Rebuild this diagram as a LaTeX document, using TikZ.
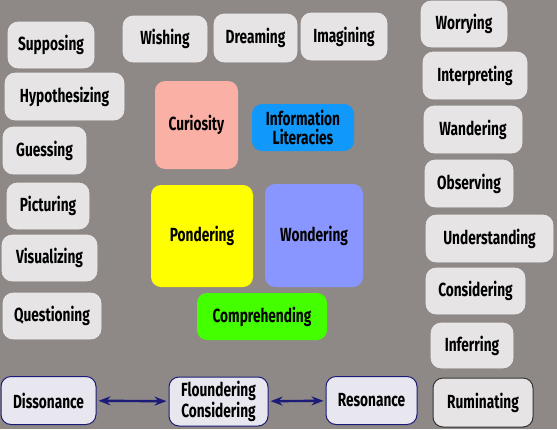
\documentclass[tikz,border=0pt]{standalone}
\usepackage{fontspec}
\setmainfont{Fira Sans}[FakeStretch=0.72]
\usetikzlibrary{arrows.meta}
\definecolor{bg}{RGB}{142,136,134}
\definecolor{lightbox}{RGB}{230,228,228}
\definecolor{salmon}{RGB}{250,176,164}
\definecolor{infoblue}{RGB}{16,152,250}
\definecolor{yel}{RGB}{255,255,0}
\definecolor{periw}{RGB}{138,150,255}
\definecolor{grn}{RGB}{68,255,0}
\definecolor{navy}{RGB}{28,28,120}
\definecolor{bluebox}{RGB}{232,230,238}
\tikzset{
  base/.style={rounded corners=10pt, align=center, inner sep=0pt,
    font=\fontsize{19}{19}\selectfont\bfseries, text=black},
  light/.style={base, fill=lightbox, draw=lightbox!80!white, line width=0.6pt},
  dark/.style={base, fill=lightbox, draw=black!80, line width=1pt},
  bluebord/.style={base, fill=bluebox, draw=navy, line width=1pt},
  colbox/.style={base, fill=#1, draw=none},
  link/.style={navy, line width=2.4pt, {Stealth[length=12pt,width=9pt]}-{Stealth[length=12pt,width=9pt]}, shorten <=2pt, shorten >=2pt}
}
\newcommand{\bx}[6]{\node[#1, minimum width=#4pt, minimum height=#5pt] (#2) at (#3) {#6};}
\begin{document}
\begin{tikzpicture}[x=1pt,y=-1pt]
\fill[bg] (0,0) rectangle (557,429);
\useasboundingbox (0,0) rectangle (557,429);
% left column
\bx{light}{supp}{51,45}{86}{46}{Supposing}
\bx{light}{hypo}{64.5,96.5}{119}{47}{Hypothesizing}
\bx{light}{gues}{44.5,150.5}{83}{47}{Guessing}
\bx{light}{pict}{48,206}{82}{46}{Picturing}
\bx{light}{visu}{49.5,258}{95}{46}{Visualizing}
\bx{light}{ques}{52,316}{98}{46}{Questioning}
% top row
\bx{light}{wish}{165,39}{84}{46}{Wishing}
\bx{light}{drea}{255.5,38}{83}{48}{Dreaming}
\bx{light}{imag}{344,36.5}{86}{47}{Imagining}
% right column
\bx{light}{worr}{464,24}{86}{46}{Worrying}
\bx{light}{inte}{475,75.5}{104}{47}{Interpreting}
\bx{light}{wand}{473,129.5}{98}{47}{Wandering}
\bx{light}{obse}{469,183.5}{88}{47}{Observing}
\bx{light}{unde}{489.5,238.5}{127}{47}{Understanding}
\bx{light}{cons}{475.5,291}{99}{46}{Considering}
\bx{light}{infe}{472,345.5}{82}{45}{Inferring}
\bx{dark}{rumi}{483,402.5}{100}{49}{Ruminating}
% centre
\bx{colbox=salmon}{curi}{196.5,125}{83}{88}{Curiosity}
\bx{colbox=infoblue}{info}{303,127.5}{102}{47}{Information\\Literacies}
\bx{colbox=yel}{pond}{202,236}{102}{102}{Pondering}
\bx{colbox=periw}{wond}{314,235.5}{98}{103}{Wondering}
\bx{colbox=grn}{comp}{262,316.5}{130}{47}{Comprehending}
% bottom row
\bx{bluebord}{diss}{48.5,400.5}{95}{48}{Dissonance}
\bx{bluebord}{flou}{218.5,401.5}{99}{49}{Floundering\\Considering}
\bx{bluebord}{reso}{371.5,400.5}{91}{48}{Resonance}
\draw[link] (diss) -- (flou);
\draw[link] (flou) -- (reso);
\end{tikzpicture}
\end{document}
